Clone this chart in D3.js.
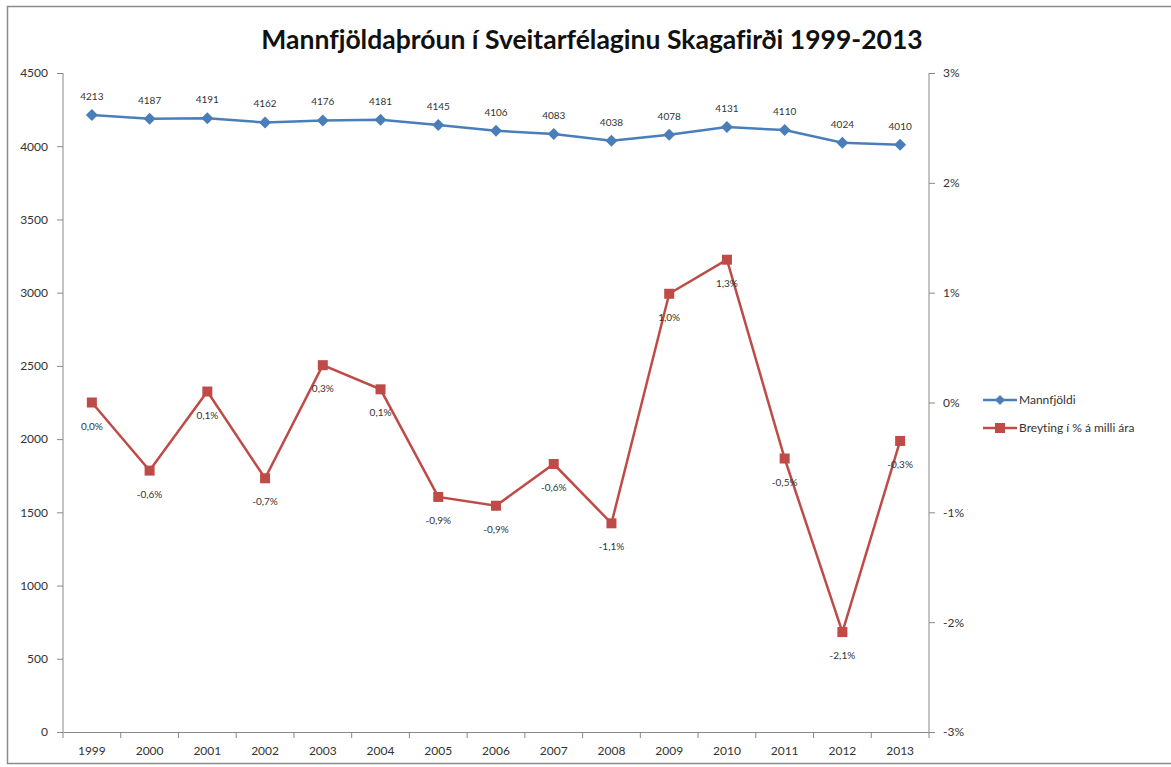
<!DOCTYPE html>
<html><head><meta charset="utf-8">
<script src="https://cdn.jsdelivr.net/npm/d3@7"></script>
<style>
html,body{margin:0;padding:0;background:#fff;}
svg text{font-family:Lato,"Liberation Sans",sans-serif;font-variant-ligatures:none;}
</style></head>
<body>
<svg id="c" width="1171" height="767"></svg>
<script>
const years = ["1999","2000","2001","2002","2003","2004","2005","2006","2007","2008","2009","2010","2011","2012","2013"];
const population = [4213,4187,4191,4162,4176,4181,4145,4106,4083,4038,4078,4131,4110,4024,4010];
const changePct = [0.0,-0.62,0.10,-0.69,0.34,0.12,-0.86,-0.94,-0.56,-1.10,0.99,1.30,-0.51,-2.09,-0.35];
const leftTicks = [0,500,1000,1500,2000,2500,3000,3500,4000,4500];
const rightTicks = [-3,-2,-1,0,1,2,3];
const title = "Mannfjöldaþróun í Sveitarfélaginu Skagafirði 1999-2013";
const seriesNames = ["Mannfjöldi","Breyting í % á milli ára"];

const blue = "#4a7ebb", red = "#be4b48", axisCol = "#888";
const svg = d3.select("#c");
svg.append("rect").attr("x",7.5).attr("y",6.5).attr("width",1170).attr("height",757)
  .attr("fill","#fff").attr("stroke","#8a8a8a").attr("stroke-width",1.5);

const L=63, R=929, T=73, B=732;
const x = d3.scaleBand().domain(years).range([L,R]);
const yL = d3.scaleLinear().domain([0,4500]).range([B,T]);
const yR = d3.scaleLinear().domain([-3,3]).range([B,T]);

svg.append("text").attr("x",592).attr("y",49).attr("text-anchor","middle")
  .attr("font-size",26.5).attr("font-weight","bold").attr("fill","#111").text(title);

const gl = svg.append("g").attr("transform",`translate(${L},0)`)
  .call(d3.axisLeft(yL).tickValues(leftTicks).tickSize(6).tickPadding(9).tickFormat(d3.format("d")));
const gr = svg.append("g").attr("transform",`translate(${R},0)`)
  .call(d3.axisRight(yR).tickValues(rightTicks).tickSize(6).tickPadding(8).tickFormat(d=>String(d)+"%"));
const gx = svg.append("g").attr("transform",`translate(0,${B})`)
  .call(d3.axisBottom(x).tickSize(0).tickPadding(14));
gx.selectAll(".tick").append("line").attr("x1",-x.bandwidth()/2).attr("x2",-x.bandwidth()/2)
  .attr("y1",0).attr("y2",6).attr("stroke",axisCol);
gx.append("line").attr("x1",R).attr("x2",R).attr("y1",0).attr("y2",6).attr("stroke",axisCol);
[gl,gr,gx].forEach(g=>{
  g.selectAll("path,line").attr("stroke",axisCol);
  g.selectAll("text").attr("font-size",12).attr("fill","#333").attr("font-family","Lato, sans-serif");
});
gl.select(".domain").attr("d",`M0,${B}V${T}`);
gr.select(".domain").attr("d",`M0,${B}V${T}`);

const cx = d=>x(d)+x.bandwidth()/2;
const diamond = r => `M0,${-r}L${r},0L0,${r}L${-r},0Z`;

svg.append("path").datum(population.map((v,i)=>[cx(years[i]),yL(v)]))
  .attr("d",d3.line()).attr("fill","none").attr("stroke",blue).attr("stroke-width",2.5);
svg.selectAll(".pm").data(population).join("path").attr("class","pm")
  .attr("d",diamond(6))
  .attr("transform",(d,i)=>`translate(${cx(years[i])},${yL(d)})`).attr("fill",blue);
svg.selectAll(".pl").data(population).join("text").attr("class","pl")
  .attr("x",(d,i)=>cx(years[i])).attr("y",d=>yL(d)-15).attr("text-anchor","middle")
  .attr("font-size",10).attr("fill","#333").text(d=>d);

svg.append("path").datum(changePct.map((v,i)=>[cx(years[i]),yR(v)]))
  .attr("d",d3.line()).attr("fill","none").attr("stroke",red).attr("stroke-width",2.5);
svg.selectAll(".cm").data(changePct).join("rect").attr("class","cm")
  .attr("x",(d,i)=>cx(years[i])-5).attr("y",d=>yR(d)-5).attr("width",10).attr("height",10).attr("fill",red);
const fmt = d=>(d<0?"-":"")+Math.abs(d).toFixed(1).replace(".",",")+"%";
svg.selectAll(".cl").data(changePct).join("text").attr("class","cl")
  .attr("x",(d,i)=>cx(years[i])).attr("y",d=>yR(d)+27).attr("text-anchor","middle")
  .attr("font-size",10).attr("fill","#333").text(d=>fmt(d));

const lg = svg.append("g");
[[blue,"d"],[red,"s"]].forEach((c,i)=>{
  const yy = 400 + i*28;
  lg.append("line").attr("x1",983).attr("x2",1017).attr("y1",yy).attr("y2",yy).attr("stroke",c[0]).attr("stroke-width",2.5);
  if(c[1]==="d") lg.append("path").attr("d",diamond(5)).attr("transform",`translate(1000,${yy})`).attr("fill",c[0]);
  else lg.append("rect").attr("x",995).attr("y",yy-5).attr("width",10).attr("height",10).attr("fill",c[0]);
  lg.append("text").attr("x",1019).attr("y",yy+4).attr("font-size",12).attr("fill","#333").text(seriesNames[i]);
});
</script>
</body></html>
